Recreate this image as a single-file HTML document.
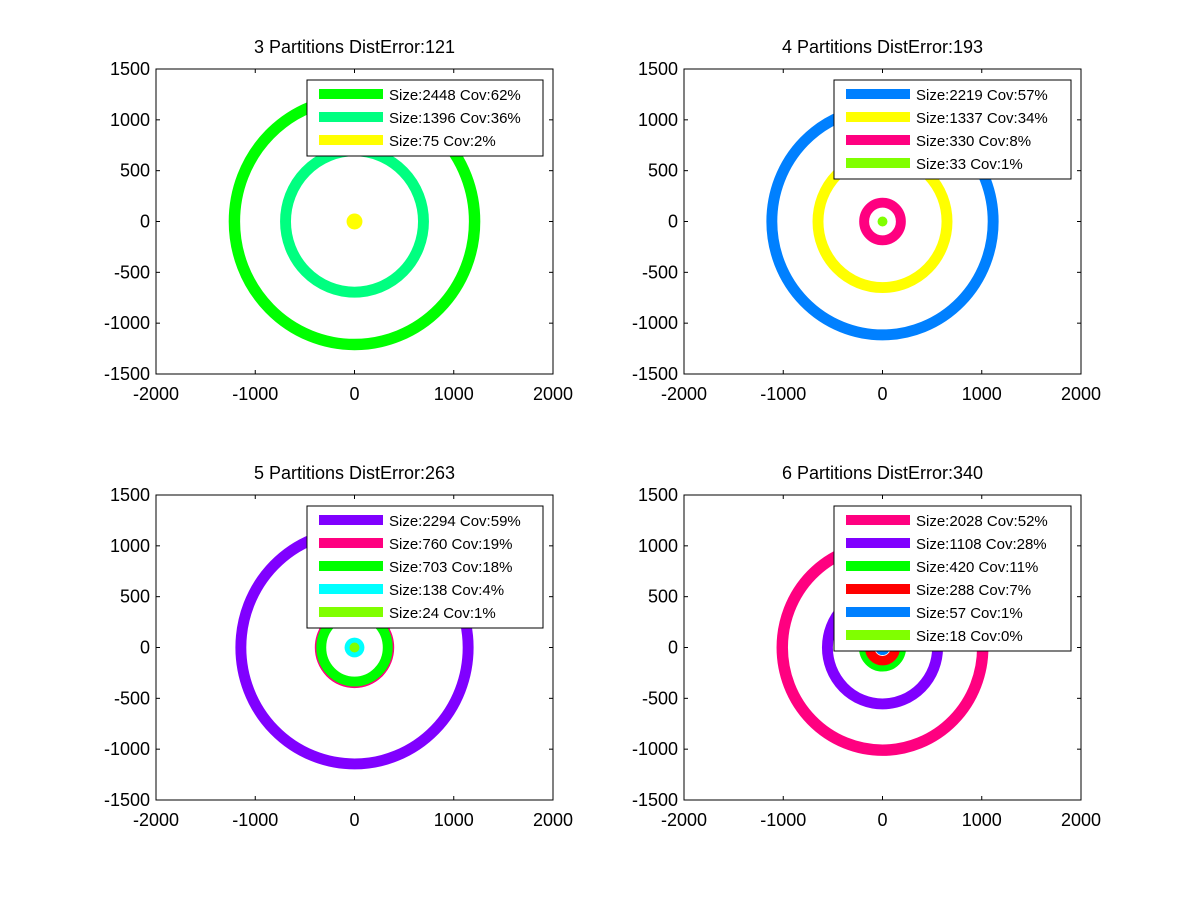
<!DOCTYPE html>
<html><head><meta charset="utf-8"><style>
body{margin:0;background:#fff;}
svg{display:block;font-family:"Liberation Sans",sans-serif;}
</style></head><body>
<svg id="fig" width="1200" height="901" viewBox="0 0 1200 901"></svg>
<script>
const titles = ["3 Partitions DistError:121","4 Partitions DistError:193","5 Partitions DistError:263","6 Partitions DistError:340"];
const xTicks = [-2000,-1000,0,1000,2000];
const yTicks = [1500,1000,500,0,-500,-1000,-1500];
// ring radii (data units), widths (data units), colors, legend labels
const radii = [[1210,695,0],[1115,650,185,0],[1145,380,335,0,0],[1010,555,190,130,45,0]];
const widths = [[115,110,160],[110,110,100,100],[110,40,100,200,100],[115,110,95,95,60,60]];
const colors = [["#00ff00","#00ff80","#ffff00"],["#0080ff","#ffff00","#ff0080","#80ff00"],["#8000ff","#ff0080","#00ff00","#00ffff","#80ff00"],["#ff0080","#8000ff","#00ff00","#ff0000","#0080ff","#80ff00"]];
const labels = [["Size:2448 Cov:62%","Size:1396 Cov:36%","Size:75 Cov:2%"],["Size:2219 Cov:57%","Size:1337 Cov:34%","Size:330 Cov:8%","Size:33 Cov:1%"],["Size:2294 Cov:59%","Size:760 Cov:19%","Size:703 Cov:18%","Size:138 Cov:4%","Size:24 Cov:1%"],["Size:2028 Cov:52%","Size:1108 Cov:28%","Size:420 Cov:11%","Size:288 Cov:7%","Size:57 Cov:1%","Size:18 Cov:0%"]];
const boxes=[[156,69],[684,69],[156,495],[684,495]];
const legW=[236,237,236,237];
const NS="http://www.w3.org/2000/svg";
const svg=document.getElementById('fig');
function mk(t,a,p){const e=document.createElementNS(NS,t);for(const k in a)e.setAttribute(k,a[k]);(p||svg).appendChild(e);return e;}
boxes.forEach((b,i)=>{
  const W=397,H=305,L=b[0],T=b[1];
  const sx=v=>L+(v+2000)/4000*W, sy=v=>T+(1500-v)/3000*H;
  const g=mk('g',{});
  
  
  const cp=mk('clipPath',{id:'c'+i},g);mk('rect',{x:L,y:T,width:W,height:H},cp);
  const rg=mk('g',{'clip-path':'url(#c'+i+')'},g);
  radii[i].forEach((r,j)=>{
    const w=widths[i][j]*W/4000, rpx=r*W/4000, rpy=r*H/3000;
    let c;
    if(rpx<1){c=mk('circle',{cx:sx(0),cy:sy(0),r:w/2,fill:colors[i][j]},rg);}
    else c=mk('ellipse',{cx:sx(0),cy:sy(0),rx:rpx,ry:rpy,fill:'none',stroke:colors[i][j],'stroke-width':w},rg);
    
    
  });
  mk('rect',{x:L,y:T,width:W,height:H,fill:'none',stroke:'#000','stroke-width':1},g);
  xTicks.forEach(v=>{const x=sx(v);mk('line',{x1:x,x2:x,y1:T+H,y2:T+H-4,stroke:'#000'},g);mk('line',{x1:x,x2:x,y1:T,y2:T+4,stroke:'#000'},g);
    const t=mk('text',{x:x,y:T+H+26,'text-anchor':'middle','font-size':18},g);t.textContent=v;
    });
  yTicks.forEach(v=>{const y=sy(v);mk('line',{x1:L,x2:L+4,y1:y,y2:y,stroke:'#000'},g);mk('line',{x1:L+W,x2:L+W-4,y1:y,y2:y,stroke:'#000'},g);
    const t=mk('text',{x:L-6,y:y+6,'text-anchor':'end','font-size':18},g);t.textContent=v;
    });
  const tt=mk('text',{x:L+W/2,y:T-16,'text-anchor':'middle','font-size':18},g);tt.textContent=titles[i];
  
  const n=labels[i].length, lx=(i%2?834:307), ly=T+11, lh=23*n+7;
  const lg=mk('g',{},g);
  
  mk('rect',{x:lx,y:ly,width:legW[i],height:lh,fill:'#fff',stroke:'#000'},lg);
  labels[i].forEach((s,j)=>{const yy=ly+14+j*23;
    mk('rect',{x:lx+12,y:yy-5,width:64,height:10,fill:colors[i][j]},lg);
    const t=mk('text',{x:lx+82,y:yy+6,'font-size':15},lg);t.textContent=s;
    });
});
</script>
</body></html>
